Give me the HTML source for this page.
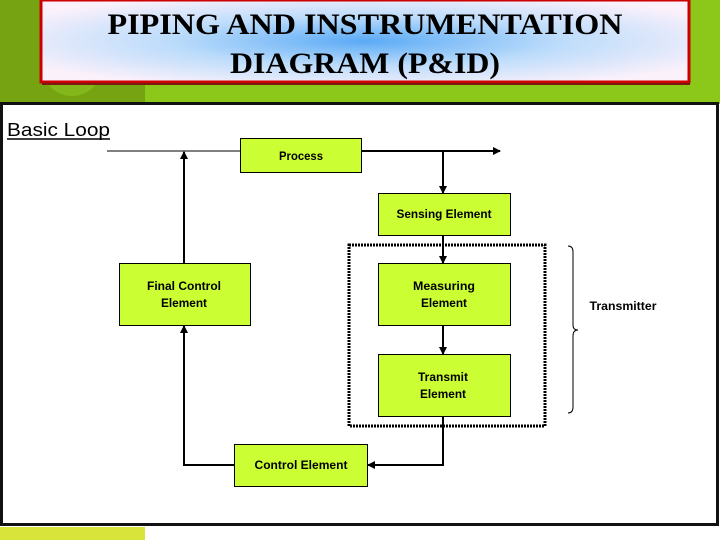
<!DOCTYPE html>
<html><head><meta charset="utf-8"><style>
html,body{margin:0;padding:0;width:720px;height:540px;overflow:hidden;background:#fff}
</style></head><body>
<svg width="720" height="540" viewBox="0 0 720 540" xmlns="http://www.w3.org/2000/svg" font-family="Liberation Sans, sans-serif">
<defs>
<radialGradient id="tg" cx="0.5" cy="0.5" r="0.6">
<stop offset="0" stop-color="#5aaaf5"/><stop offset="0.5" stop-color="#bcdcfb"/><stop offset="1" stop-color="#fbf1fb"/>
</radialGradient>
<marker id="ar" markerWidth="8" markerHeight="8" refX="7" refY="4" orient="auto" markerUnits="userSpaceOnUse">
<path d="M0,0 L8,4 L0,8 z" fill="#000"/></marker>
</defs>
<rect x="0" y="0" width="720" height="104" fill="#8cc819"/>
<rect x="0" y="0" width="145" height="104" fill="#76a312"/>
<circle cx="72" cy="66" r="30" fill="#84b81a"/>
<rect x="0" y="525" width="720" height="15" fill="#fff"/>
<rect x="0" y="527" width="145" height="13" fill="#d8e43a"/>
<rect x="41" y="0" width="648" height="82" fill="url(#tg)" stroke="#c00" stroke-width="3"/>
<line x1="42" y1="84" x2="690" y2="84" stroke="#7a1a10" stroke-width="2"/>
<text x="365" y="34" text-anchor="middle" font-family="Liberation Serif, serif" font-weight="bold" font-size="30" textLength="515" lengthAdjust="spacingAndGlyphs">PIPING AND INSTRUMENTATION</text>
<text x="365" y="73" text-anchor="middle" font-family="Liberation Serif, serif" font-weight="bold" font-size="30" textLength="270" lengthAdjust="spacingAndGlyphs">DIAGRAM (P&amp;ID)</text>
<rect x="1.5" y="103.5" width="716" height="421" fill="#fff" stroke="#111" stroke-width="3"/>
<text x="7" y="136" font-size="18" textLength="103" lengthAdjust="spacingAndGlyphs">Basic Loop</text>
<line x1="7" y1="139" x2="110" y2="139" stroke="#000" stroke-width="1.5"/>
<g stroke="#000" fill="none" stroke-width="2">
<line x1="107" y1="151" x2="240" y2="151" stroke-width="1"/>
<line x1="361" y1="151" x2="500" y2="151" marker-end="url(#ar)"/>
<line x1="443" y1="151" x2="443" y2="193" marker-end="url(#ar)"/>
<line x1="184" y1="263" x2="184" y2="152" marker-end="url(#ar)"/>
<line x1="443" y1="235" x2="443" y2="263" marker-end="url(#ar)"/>
<line x1="443" y1="325" x2="443" y2="354" marker-end="url(#ar)"/>
<polyline points="443,416 443,465 368,465" marker-end="url(#ar)"/>
<polyline points="234,465 184,465 184,326" marker-end="url(#ar)"/>
<rect x="349" y="245" width="196" height="181" stroke-width="3" stroke-dasharray="2,1"/>
<path d="M568,246 Q573,246 573,252 L573,325 Q573,330 578,330 Q573,330 573,336 L573,407 Q573,413 568,413" stroke-width="1"/>
</g>
<g fill="#ccff33" stroke="#000" stroke-width="1">
<rect x="240.5" y="138.5" width="121" height="34"/>
<rect x="378.5" y="193.5" width="132" height="42"/>
<rect x="119.5" y="263.5" width="131" height="62"/>
<rect x="378.5" y="263.5" width="132" height="62"/>
<rect x="378.5" y="354.5" width="132" height="62"/>
<rect x="234.5" y="444.5" width="133" height="42"/>
</g>
<g font-size="12" font-weight="bold" text-anchor="middle" fill="#000" lengthAdjust="spacingAndGlyphs">
<text x="301" y="160" textLength="44" lengthAdjust="spacingAndGlyphs">Process</text>
<text x="444" y="218" textLength="95" lengthAdjust="spacingAndGlyphs">Sensing Element</text>
<text x="184" y="290" textLength="74" lengthAdjust="spacingAndGlyphs">Final Control</text>
<text x="184" y="307" textLength="46" lengthAdjust="spacingAndGlyphs">Element</text>
<text x="444" y="290" textLength="62" lengthAdjust="spacingAndGlyphs">Measuring</text>
<text x="444" y="307" textLength="46" lengthAdjust="spacingAndGlyphs">Element</text>
<text x="443" y="381" textLength="50" lengthAdjust="spacingAndGlyphs">Transmit</text>
<text x="443" y="398" textLength="46" lengthAdjust="spacingAndGlyphs">Element</text>
<text x="301" y="469" textLength="93" lengthAdjust="spacingAndGlyphs">Control Element</text>
<text x="623" y="310" textLength="67" lengthAdjust="spacingAndGlyphs">Transmitter</text>
</g>
</svg>
</body></html>
